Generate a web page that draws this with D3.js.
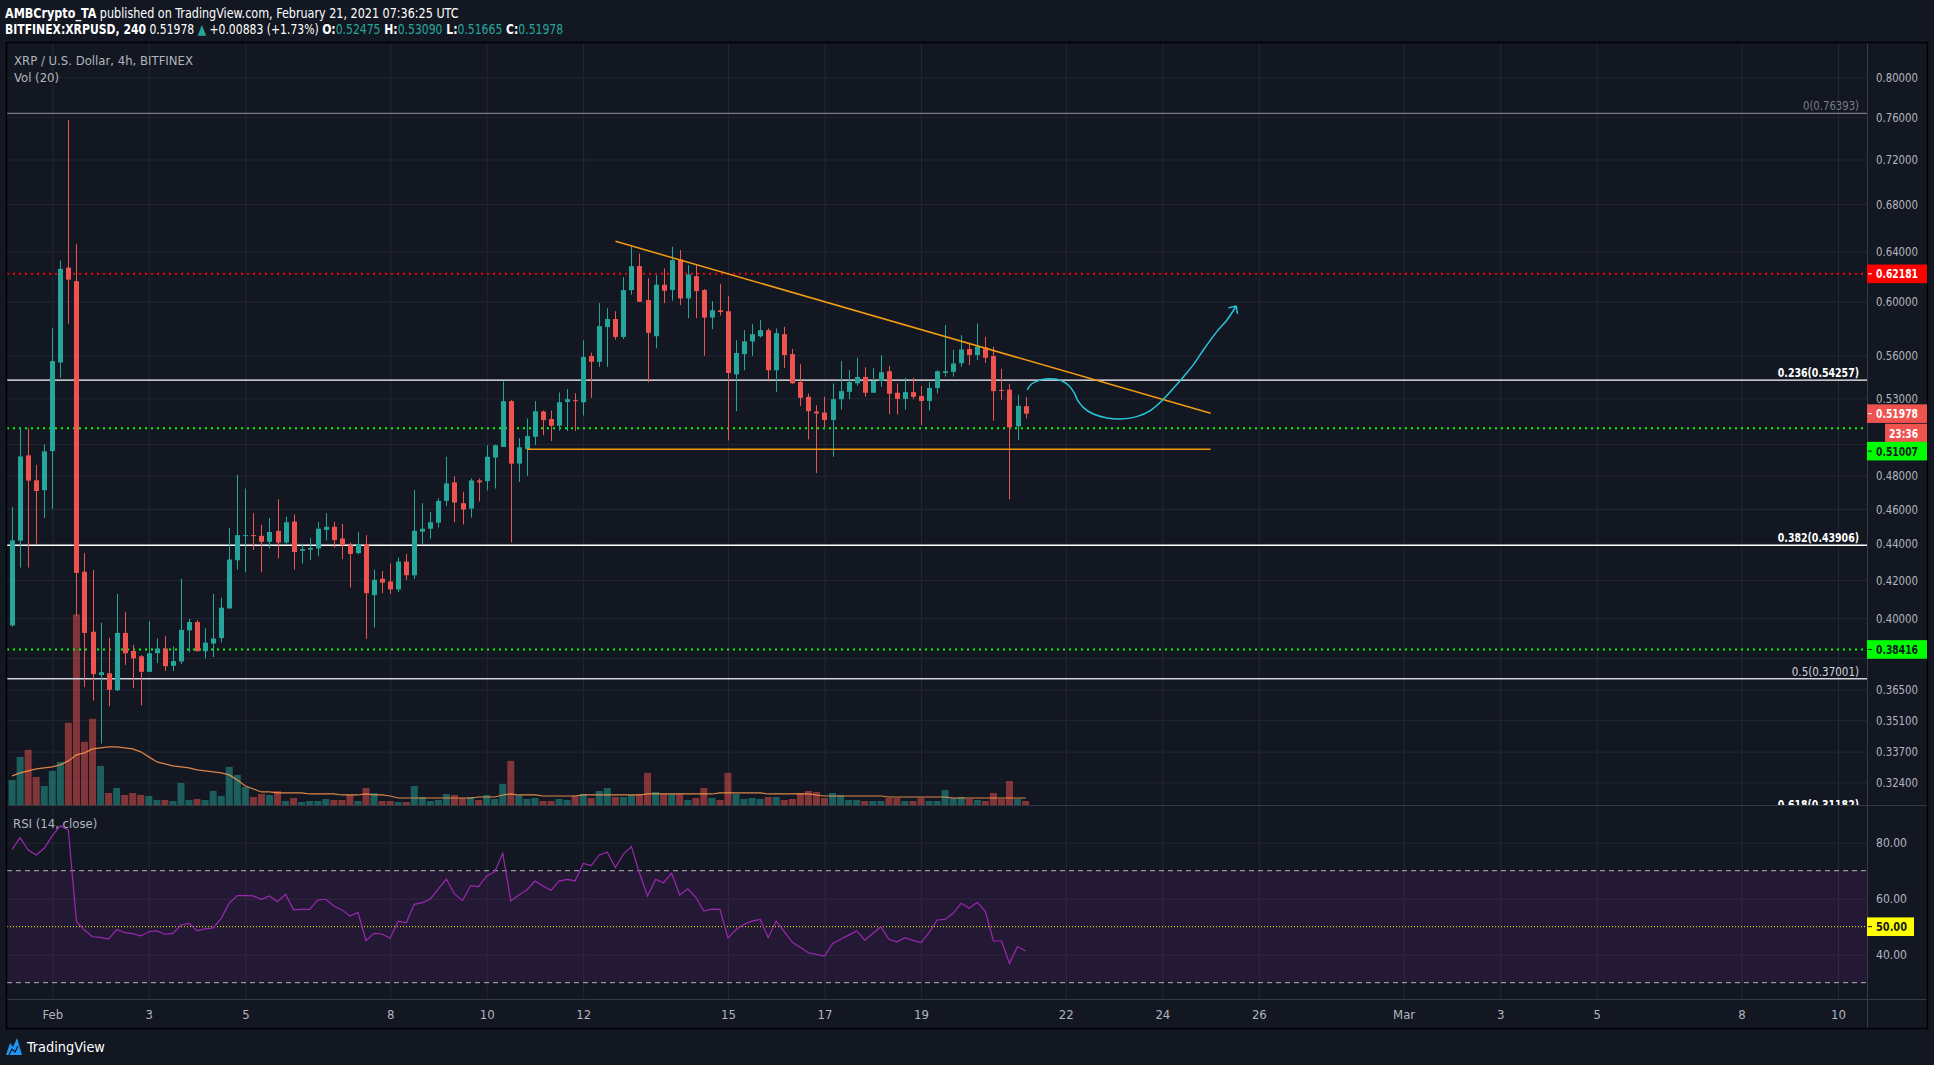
<!DOCTYPE html>
<html>
<head>
<meta charset="utf-8">
<script src="https://cdn.jsdelivr.net/npm/d3@7"></script>
<style>
  body { margin: 0; background: #131722; }
  svg text { font-family: "Liberation Sans Narrow", "Arial Narrow", "DejaVu Sans Condensed", "Liberation Sans", sans-serif; }
</style>
</head>
<body>
<svg id="chart" width="1934" height="1065"></svg>
<script>
// ---- data (4h bars, first bar Jan 31 04:00 UTC) ----
const opens = [
  .3962,.4417,.4927,.4772,.4712,.4954,.5550,.6268,.6160,.4244,
  .3930,.3718,.3726,.3646,.3924,.3834,.3808,.3733,.3823,.3846,
  .3762,.3783,.3937,.3979,.3833,.3871,.3898,.4049,.4307,.4444,
  .4448,.4444,.4410,.4472,.4406,.4526,.4360,.4366,.4373,.4478,
  .4496,.4429,.4391,.4347,.4397,.4119,.4206,.4191,.4149,.4300,
  .4225,.4468,.4485,.4520,.4648,.4759,.4634,.4602,.4771,.4767,
  .4913,.4980,.5282,.4875,.4967,.5046,.5212,.5162,.5118,.5276,
  .5288,.5274,.5596,.5555,.5808,.5868,.5735,.6090,.6280,.6012,
  .5740,.6132,.6090,.6334,.6025,.6199,.6090,.5879,.5934,.5927,
  .5466,.5610,.5702,.5740,.5785,.5495,.5755,.5610,.5413,.5311,
  .5212,.5205,.5155,.5295,.5345,.5404,.5448,.5339,.5420,.5488,
  .5339,.5297,.5343,.5316,.5283,.5371,.5476,.5484,.5545,.5647,
  .5603,.5659,.5596,.5358,.5360,.5114,.52475
];
const highs = [
  .4611,.5105,.5105,.4867,.4997,.5799,.6326,.7574,.6460,.4347,
  .4254,.3975,.3899,.4125,.4031,.3864,.3814,.3985,.3896,.3907,
  .3856,.4206,.3995,.3989,.3947,.4125,.4105,.4490,.4806,.4722,
  .4575,.4508,.4547,.4657,.4554,.4568,.4399,.4432,.4524,.4575,
  .4524,.4512,.4406,.4466,.4448,.4256,.4248,.4289,.4322,.4342,
  .4714,.4634,.4582,.4664,.4918,.4796,.4702,.4783,.4783,.4991,
  .4995,.5417,.5289,.5037,.5165,.5282,.5219,.5219,.5341,.5364,
  .5336,.5710,.5620,.5989,.5950,.5927,.6191,.6438,.6383,.6183,
  .6207,.6261,.6438,.6410,.6288,.6288,.6098,.6004,.6138,.6043,
  .5710,.5785,.5830,.5860,.5798,.5798,.5810,.5647,.5538,.5334,
  .5254,.5311,.5403,.5560,.5495,.5584,.5516,.5509,.5603,.5526,
  .5403,.5442,.5442,.5385,.5413,.5495,.5823,.5640,.5748,.5692,
  .5835,.5735,.5664,.5505,.5401,.5325,.53090
];
const lows = [
  .3956,.4267,.4267,.4399,.4547,.4600,.5444,.5833,.4009,.3661,
  .3598,.3405,.3572,.3642,.3766,.3657,.3576,.3733,.3775,.3737,
  .3737,.3771,.3827,.3833,.3798,.3804,.3877,.4049,.4256,.4241,
  .4364,.4241,.4373,.4318,.4399,.4256,.4289,.4307,.4329,.4417,
  .4377,.4313,.4159,.4340,.3894,.3951,.4129,.4125,.4135,.4200,
  .4205,.4399,.4428,.4492,.4618,.4522,.4510,.4549,.4644,.4710,
  .4722,.4980,.4407,.4762,.4799,.4993,.5056,.5018,.5085,.5083,
  .5083,.5185,.5304,.5519,.5519,.5715,.5720,.6054,.5999,.5411,
  .5652,.5989,.6007,.5973,.5874,.5874,.5598,.5793,.5895,.5023,
  .5214,.5495,.5596,.5730,.5427,.5345,.5512,.5400,.5249,.5029,
  .4817,.5107,.4918,.5225,.5295,.5387,.5311,.5339,.5380,.5194,
  .5192,.5225,.5295,.5122,.5219,.5334,.5450,.5450,.5519,.5531,
  .5567,.5548,.5151,.5292,.4657,.5023,.51665
];
const closes = [
  .4418,.4920,.4770,.4707,.4952,.5560,.6258,.6172,.4238,.3924,
  .3722,.3731,.3648,.3924,.3823,.3798,.3733,.3823,.3846,.3760,
  .3785,.3939,.3979,.3833,.3875,.3896,.4053,.4311,.4448,.4448,
  .4444,.4410,.4466,.4406,.4522,.4353,.4369,.4375,.4485,.4496,
  .4420,.4391,.4342,.4397,.4129,.4200,.4185,.4149,.4300,.4225,
  .4473,.4485,.4522,.4648,.4753,.4638,.4596,.4771,.4759,.4918,
  .4991,.5282,.4875,.4978,.5050,.5213,.5155,.5118,.5274,.5295,
  .5281,.5589,.5555,.5815,.5868,.5735,.6090,.6280,.5999,.5765,
  .6132,.6085,.6329,.6025,.6213,.6082,.5879,.5934,.5921,.5476,
  .5618,.5702,.5755,.5785,.5495,.5763,.5603,.5404,.5304,.5214,
  .5199,.5155,.5295,.5350,.5413,.5448,.5339,.5420,.5481,.5332,
  .5297,.5343,.5311,.5283,.5371,.5488,.5488,.5543,.5644,.5603,
  .5664,.5584,.5350,.5355,.5107,.5250,.51978
];
// volume, millions XRP (relative)
const volumes = [
  25,48,55,28,19,34,43,82,190,63, 86,39,12,17,10,12,10,9,5,5,
  4,22,5,6,5,14,9,38,30,18, 8,11,10,14,4,7,3,4,4,6,
  5,5,10,4,17,12,4,4,3,3, 19,8,4,5,11,10,7,8,5,10,
  6,21,44,10,6,7,4,4,6,5, 9,11,7,14,17,8,8,10,11,32,
  13,11,11,11,5,7,17,7,5,32, 11,6,7,6,8,8,5,6,12,14,
  13,7,12,10,5,5,4,4,4,7, 7,4,4,7,4,4,15,7,8,6,
  5,4,12,6,24,6,4
];
// Vol (20) moving average as plotted
const volMa = [
  29,32,34,36,37,38,40,44,50,52, 56,57,58,58,57,56,53,48,43,41,
  39,38,37,35,34,33,32,30,25,19, 16,13,13,12,12,12,12,11,11,11,
  11,10,10,10,11,10,10,9,7,7, 7,7,7,7,7,7,7,7,8,8,
  8,10,11,10,10,10,9,9,9,9, 9,10,10,10,10,10,10,10,10,11,
  11,11,11,11,11,11,11,11,12,12, 12,12,12,12,11,11,11,11,11,11,
  10,9,9,9,9,9,9,9,9,8, 8,8,8,8,8,8,8,7,7,7,
  7,7,7,7,7,7,7
];
// RSI (14, close)
const rsi = [
  77.6,81.8,77.4,75.6,78,82.5,86,84.5,51.8,48.8,
  46.4,46.2,45.6,49,47.9,47.5,46.7,48.2,48.5,47.3,
  47.6,50.6,51.2,48.5,49.2,49.6,53,58.4,61.1,61.1,
  61,59.8,61,58.9,61.6,56,56.2,56.2,59.5,59.8,
  57.4,56,53.8,55.1,45,47.6,47.4,45.9,52,51.4,
  58,58.6,59.9,63.5,67,61.7,59.3,64.6,64.3,68.1,
  69.6,76.2,59.2,61.3,63.1,66.3,64.5,63,66.3,66.9,
  66.4,72.6,71.8,75.6,76.6,71.1,75.9,78.6,69.1,61,
  66.9,65.7,69.1,61.3,63.5,60.5,55.6,56.3,56.2,45.9,
  49,50.9,52,52.6,46.1,52,48.2,44.4,42.6,40.7,
  40.1,39.5,43.9,45.5,47,48.5,45.2,47.6,50,45.5,
  44.6,46.1,45.1,44.3,47.9,52.4,52.6,54.8,58.4,56.6,
  58.7,55.4,44.9,44.9,36.9,42.9,41.3
];

const firstBar = Date.UTC(2021, 0, 31, 4);
const barMs = 4 * 3600 * 1000;

const timeTicks = [[1,1],[1,3],[1,5],[1,8],[1,10],[1,12],[1,15],[1,17],[1,19],[1,22],[1,24],[1,26],
  [2,1],[2,3],[2,5],[2,8],[2,10]].map(([m, d]) => new Date(Date.UTC(2021, m, d)));
const priceTicks = [0.8,0.76,0.72,0.68,0.64,0.6,0.56,0.53,0.5,0.48,0.46,0.44,0.42,0.4,0.38,0.365,0.351,0.337,0.324];
const rsiTicks = [40, 60, 80];

const fibRatios = ["0", "0.236", "0.382", "0.5", "0.618"];
const fibPrices = [0.76393, 0.54257, 0.43906, 0.37001, 0.31182];

const redLevel = 0.62181;
const greenLevels = [0.51007, 0.38416];

// drawings, x in days of February 2021
const trendDays = [12.67, 25.0];
const trendPrices = [0.6483, 0.5200];
const supportDays = [10.833, 25.0];
const supportPrice = 0.4966;
const curveDays = [21.20,21.29,21.47,21.67,21.88,22.05,22.18,22.24,22.36,22.57,22.85,23.12,23.47,23.75,24.02,24.23,24.44,24.64,24.85,25.13,25.34,25.53];
const curvePrices = [.5358,.5399,.5426,.5436,.5426,.5392,.5335,.5290,.5240,.5195,.5169,.5162,.5178,.5218,.5294,.5370,.5450,.5533,.5640,.5774,.5861,.5967];

// ---- layout ----
const L = 7, R = 1867, OR = 1927, TOP = 43, PB = 805, RT = 806, RB = 999, AB = 1028;
const up = "#26a69a", down = "#ef5350";
const grid = "#232733", axisTxt = "#b2b5be";

const svg = d3.select("#chart");
svg.append("rect").attr("width", 1934).attr("height", 1065).attr("fill", "#131722");

// squeeze a text element horizontally so it spans `target` px from x0
function fitX(sel, x0, target) {
  const w = sel.node().getComputedTextLength();
  if (w > 0) sel.attr("transform", `translate(${x0},0) scale(${target / w},1) translate(${-x0},0)`);
}

const febDay = d => new Date(Date.UTC(2021, 1, 1) + (d - 1) * 864e5);
const x = d3.scaleUtc()
  .domain([new Date(Date.UTC(2021, 1, 1)), new Date(Date.UTC(2021, 2, 10))])
  .range([52.3, 1838]);
const y = d3.scaleLog().domain([0.83596, 0.31471]).range([TOP, PB]);
const yRsi = d3.scaleLinear().domain([24.18, 93.1]).range([RB, RT]);
const yVol = d3.scaleLinear().domain([0, d3.max(volumes) * 4]).range([PB, TOP]);

const bars = closes.map((c, i) => ({
  t: new Date(firstBar + i * barMs), o: opens[i], h: highs[i], l: lows[i], c,
  v: volumes[i], ma: volMa[i], r: rsi[i]
}));
const last = bars[bars.length - 1];
const f5 = d3.format(".5f");

const defs = svg.append("defs");
defs.append("clipPath").attr("id", "clipPrice").append("rect")
  .attr("x", L).attr("y", TOP).attr("width", R - L).attr("height", PB - TOP);
defs.append("clipPath").attr("id", "clipRsi").append("rect")
  .attr("x", L).attr("y", RT).attr("width", R - L).attr("height", RB - RT);

// ---- header ----
const h1 = svg.append("text").attr("x", 5).attr("y", 18).attr("font-size", 14).attr("fill", "#ffffff");
h1.append("tspan").attr("font-weight", "bold").text("AMBCrypto_TA");
h1.append("tspan").text(" published on TradingView.com, February 21, 2021 07:36:25 UTC");
fitX(h1, 5, 454);

const h2 = svg.append("text").attr("x", 5).attr("y", 34).attr("font-size", 14).attr("fill", "#ffffff");
h2.append("tspan").attr("font-weight", "bold").text("BITFINEX:XRPUSD, 240");
h2.append("tspan").text(" " + f5(last.c) + " ");
h2.append("tspan").attr("fill", up).text("▲");
h2.append("tspan").text(" +0.00883 (+1.73%) ");
[["O:", last.o], [" H:", last.h], [" L:", last.l], [" C:", last.c]].forEach(([k, v]) => {
  h2.append("tspan").attr("font-weight", "bold").text(k);
  h2.append("tspan").attr("fill", up).text(f5(v));
});
fitX(h2, 5, 559);

// ---- tags on the price axis (positions needed to hide covered tick labels) ----
const tagRows = [y(redLevel), y(last.c), y(last.c) + 19.4, y(last.c) + 37.5, y(greenLevels[1])];

// ---- grid + axes ----
const gridG = svg.append("g");
gridG.append("g")
  .attr("transform", `translate(0,${RB})`)
  .call(d3.axisBottom(x).tickValues(timeTicks).tickSize(-(RB - TOP)).tickPadding(11)
    .tickFormat(d => d.getUTCDate() === 1 ? d3.utcFormat("%b")(d) : d.getUTCDate()))
  .call(s => {
    s.select(".domain").remove();
    s.selectAll(".tick line").attr("stroke", grid);
    s.selectAll(".tick text").attr("fill", axisTxt).attr("font-size", 13);
  });

gridG.append("g")
  .attr("transform", `translate(${R},0)`)
  .call(d3.axisRight(y).tickValues(priceTicks).tickSize(-(R - L)).tickPadding(9).tickFormat(d3.format(".5f")))
  .call(s => {
    s.select(".domain").remove();
    s.selectAll(".tick line").attr("stroke", grid);
    s.selectAll(".tick text").attr("fill", axisTxt).attr("font-size", 13)
      .attr("textLength", 42).attr("lengthAdjust", "spacingAndGlyphs")
      .filter(d => tagRows.some(t => Math.abs(y(d) - t) < 14)).remove();
  });

gridG.append("g")
  .attr("transform", `translate(${R},0)`)
  .call(d3.axisRight(yRsi).tickValues(rsiTicks).tickSize(-(R - L)).tickPadding(9).tickFormat(d3.format(".2f")))
  .call(s => {
    s.select(".domain").remove();
    s.selectAll(".tick line").attr("stroke", grid);
    s.selectAll(".tick text").attr("fill", axisTxt).attr("font-size", 13)
      .attr("textLength", 31).attr("lengthAdjust", "spacingAndGlyphs");
  });

// ---- price pane ----
const pg = svg.append("g").attr("clip-path", "url(#clipPrice)");

pg.selectAll("rect.vol").data(bars).enter().append("rect")
  .attr("x", d => x(d.t) - 3.5).attr("width", 7)
  .attr("y", d => yVol(d.v)).attr("height", d => PB - yVol(d.v))
  .attr("fill", d => d.c >= d.o ? up : down).attr("opacity", 0.5);

pg.append("path").datum(bars)
  .attr("fill", "none").attr("stroke", "#ff9a4d").attr("stroke-width", 1.2).attr("opacity", 0.85)
  .attr("d", d3.line().x(d => x(d.t)).y(d => yVol(d.ma)));

const fibLine = ["#787b86", "#ffffff", "#ffffff", "#d1d4dc", "#ffffff"];
const fibWeight = ["normal", "bold", "bold", "normal", "bold"];
fibPrices.forEach((p, i) => {
  pg.append("line").attr("x1", L).attr("x2", R).attr("y1", y(p)).attr("y2", y(p))
    .attr("stroke", fibLine[i]).attr("stroke-width", 1.3);
  const label = `${fibRatios[i]}(${f5(p)})`;
  pg.append("text").attr("x", 1859).attr("y", y(p) - 3).attr("text-anchor", "end")
    .attr("font-size", 13).attr("font-weight", fibWeight[i]).attr("fill", fibLine[i])
    .attr("textLength", label.length * (fibWeight[i] === "bold" ? 5.8 : 5.6))
    .attr("lengthAdjust", "spacingAndGlyphs")
    .text(label);
});

pg.append("line").attr("x1", L).attr("x2", 1863).attr("y1", y(redLevel)).attr("y2", y(redLevel))
  .attr("stroke", "#ff0000").attr("stroke-width", 2).attr("stroke-dasharray", "2,4");
greenLevels.forEach(p => {
  pg.append("line").attr("x1", L).attr("x2", 1863).attr("y1", y(p)).attr("y2", y(p))
    .attr("stroke", "#00ff00").attr("stroke-width", 2).attr("stroke-dasharray", "2,4");
});

// candles
const cg = pg.append("g");
cg.selectAll("line.wick").data(bars).enter().append("line")
  .attr("x1", d => Math.round(x(d.t)) + 0.5).attr("x2", d => Math.round(x(d.t)) + 0.5)
  .attr("y1", d => y(d.h)).attr("y2", d => y(d.l))
  .attr("stroke", d => d.c >= d.o ? up : down).attr("stroke-width", 1);
cg.selectAll("rect.body").data(bars).enter().append("rect")
  .attr("x", d => Math.round(x(d.t)) - 2).attr("width", 5)
  .attr("y", d => y(Math.max(d.o, d.c)))
  .attr("height", d => Math.max(1, y(Math.min(d.o, d.c)) - y(Math.max(d.o, d.c))))
  .attr("fill", d => d.c >= d.o ? up : down);

// drawings
pg.append("line")
  .attr("x1", x(febDay(trendDays[0]))).attr("y1", y(trendPrices[0]))
  .attr("x2", x(febDay(trendDays[1]))).attr("y2", y(trendPrices[1]))
  .attr("stroke", "#f39c12").attr("stroke-width", 1.5);
pg.append("line")
  .attr("x1", x(febDay(supportDays[0]))).attr("y1", y(supportPrice))
  .attr("x2", x(febDay(supportDays[1]))).attr("y2", y(supportPrice))
  .attr("stroke", "#f39c12").attr("stroke-width", 1.5);

const cpts = curveDays.map((d, i) => [x(febDay(d)), y(curvePrices[i])]);
pg.append("path").attr("fill", "none").attr("stroke", "#26c6da").attr("stroke-width", 1.5)
  .attr("d", d3.line().curve(d3.curveCatmullRom)(cpts));
const tip = cpts[cpts.length - 1], prev = cpts[cpts.length - 2];
const ang = Math.atan2(prev[1] - tip[1], prev[0] - tip[0]);
[-0.75, 0.75].forEach(a => {
  pg.append("line").attr("x1", tip[0]).attr("y1", tip[1])
    .attr("x2", tip[0] + 8 * Math.cos(ang + a)).attr("y2", tip[1] + 8 * Math.sin(ang + a))
    .attr("stroke", "#26c6da").attr("stroke-width", 1.5);
});

// ---- RSI pane ----
const rg = svg.append("g").attr("clip-path", "url(#clipRsi)");
rg.append("rect").attr("x", L).attr("width", R - L)
  .attr("y", yRsi(70)).attr("height", yRsi(30) - yRsi(70)).attr("fill", "#9c27b0").attr("opacity", 0.13);
[70, 30].forEach(v => rg.append("line").attr("x1", L).attr("x2", R).attr("y1", yRsi(v)).attr("y2", yRsi(v))
  .attr("stroke", "#b2b5be").attr("stroke-dasharray", "5,4"));
rg.append("line").attr("x1", L).attr("x2", R).attr("y1", yRsi(50)).attr("y2", yRsi(50))
  .attr("stroke", "#ffff00").attr("stroke-dasharray", "1,2");
rg.append("path").datum(bars).attr("fill", "none").attr("stroke", "#9c27b0").attr("stroke-width", 1.2)
  .attr("d", d3.line().x(d => x(d.t)).y(d => yRsi(d.r)));

// ---- frame ----
const frame = svg.append("g").attr("stroke", "#363a45").attr("stroke-width", 1);
frame.append("line").attr("x1", L).attr("x2", OR).attr("y1", PB + 0.5).attr("y2", PB + 0.5);
frame.append("line").attr("x1", L).attr("x2", OR).attr("y1", RB + 0.5).attr("y2", RB + 0.5);
frame.append("line").attr("x1", R + 0.5).attr("x2", R + 0.5).attr("y1", TOP).attr("y2", AB);
svg.append("rect").attr("x", L - 0.5).attr("y", TOP - 0.5).attr("width", OR - L + 1).attr("height", AB - TOP + 1)
  .attr("fill", "none").attr("stroke", "#000000").attr("stroke-width", 1.5);

// ---- legends ----
svg.append("text").attr("x", 14).attr("y", 65).attr("font-size", 13).attr("fill", axisTxt)
  .text("XRP / U.S. Dollar, 4h, BITFINEX");
svg.append("text").attr("x", 14).attr("y", 82).attr("font-size", 13).attr("fill", axisTxt)
  .text("Vol (20)");
svg.append("text").attr("x", 13).attr("y", 828).attr("font-size", 13).attr("fill", axisTxt)
  .text("RSI (14, close)");

// ---- price tags on the axis ----
function tag(cy, text, bg, fg, x0, w, tw) {
  const g = svg.append("g");
  g.append("rect").attr("x", x0).attr("y", cy - 9.3).attr("width", w).attr("height", 18.6).attr("fill", bg);
  if (x0 === R) g.append("line").attr("x1", R + 1).attr("x2", R + 5).attr("y1", cy).attr("y2", cy).attr("stroke", fg);
  g.append("text").attr("x", x0 === R ? 1876 : x0 + 4).attr("y", cy + 4.6).attr("font-size", 13)
    .attr("font-weight", "bold").attr("fill", fg)
    .attr("textLength", tw).attr("lengthAdjust", "spacingAndGlyphs").text(text);
}
tag(tagRows[0], f5(redLevel), "#ff0000", "#ffffff", R, OR - R, 42);
tag(tagRows[1], f5(last.c), down, "#ffffff", R, OR - R, 42);
tag(tagRows[2], "23:36", down, "#ffffff", 1885, OR - 1885, 29);
tag(tagRows[3], f5(greenLevels[0]), "#00ff00", "#131722", R, OR - R, 42);
tag(tagRows[4], f5(greenLevels[1]), "#00ff00", "#131722", R, OR - R, 42);
tag(yRsi(50), "50.00", "#ffff00", "#131722", R, 47, 31);

// ---- footer ----
const logo = svg.append("g").attr("transform", "translate(6,1038)");
logo.append("path").attr("d", "M0,17 L4,5 L7,9 L11,0 L16,17 Z").attr("fill", "#2196f3");
logo.append("path").attr("d", "M3,17 L6,11 L9,14 L12,8").attr("fill", "none").attr("stroke", "#131722").attr("stroke-width", 1.2);
const tv = svg.append("text").attr("x", 27).attr("y", 1052).attr("font-size", 14).attr("fill", "#ffffff").text("TradingView");
fitX(tv, 27, 78);
</script>
</body>
</html>
